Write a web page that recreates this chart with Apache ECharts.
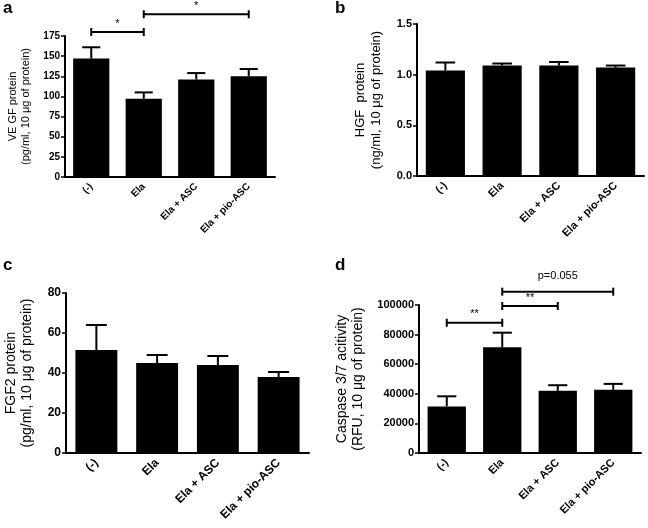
<!DOCTYPE html>
<html>
<head>
<meta charset="utf-8">
<script src="https://cdn.jsdelivr.net/npm/echarts@6/dist/echarts.min.js"></script>
<style>html,body{margin:0;padding:0;background:#fff}#c{width:648px;height:528px}</style>
</head>
<body>
<div id="c"></div>
<script>
// ---- data ----
const categories = ['(-)', 'Ela', 'Ela + ASC', 'Ela + pio-ASC'];

const vegfMean = [147, 97, 121, 125];
const vegfSem  = [14, 8, 8, 9];
const vegfTicks = [0, 25, 50, 75, 100, 125, 150, 175];
const vegfBrackets = [[0, 1, 180, '*'], [1, 3, 202, '*']];

const hgfMean = [1.04, 1.09, 1.09, 1.07];
const hgfSem  = [0.08, 0.02, 0.035, 0.02];
const hgfTicks = ['0.0', '0.5', '1.0', '1.5'];

const fgf2Mean = [51.5, 45, 44, 38];
const fgf2Sem  = [12.5, 4, 4.5, 2.5];
const fgf2Ticks = [0, 20, 40, 60, 80];

const caspMean = [31500, 71500, 42000, 42700];
const caspSem  = [6800, 9800, 3800, 4000];
const caspTicks = [0, 20000, 40000, 60000, 80000, 100000];
const caspBrackets = [[0, 1, 88000, '**'], [1, 2, 99300, '**'], [1, 3, 109000, 'p=0.055']];

// ---- chart ----
const FONT = '"Liberation Sans", Arial, sans-serif';
const chart = echarts.init(document.getElementById('c'));

const panels = [
  {grid:{left:65, top:36, width:210, height:141}, mean:vegfMean, sem:vegfSem, max:175, interval:25,
   name:'VE GF protein\n(pg/ml, 10 μg of protein)', nameSize:11, nameGap:32, tickSize:10, catSize:10, brackets:vegfBrackets, fmt:v=>String(v)},
  {grid:{left:417, top:24, width:227, height:152}, mean:hgfMean, sem:hgfSem, max:1.5, interval:0.5,
   name:'HGF  protein\n(ng/ml, 10 μg of protein)', nameSize:13, nameGap:33, tickSize:11, catSize:11, brackets:[], fmt:v=>hgfTicks[Math.round(v/0.5)]},
  {grid:{left:66, top:293, width:243, height:160}, mean:fgf2Mean, sem:fgf2Sem, max:80, interval:20,
   name:'FGF2 protein\n(pg/ml, 10 μg of protein)', nameSize:14, nameGap:30, tickSize:12, catSize:12, brackets:[], fmt:v=>String(v)},
  {grid:{left:419, top:305, width:222, height:148}, mean:caspMean, sem:caspSem, max:100000, interval:20000,
   name:'Caspase 3/7 acitivity\n(RFU, 10 μg of protein)', nameSize:14, nameGap:52, tickSize:11, catSize:11, brackets:caspBrackets, fmt:v=>String(v)}
];

const grids = [], xAxes = [], yAxes = [], series = [];
const axisLineStyle = {color:'#000', width:2};
panels.forEach((p, i) => {
  grids.push(Object.assign({containLabel:false}, p.grid));
  xAxes.push({
    type:'category', gridIndex:i, data:categories,
    axisLine:{lineStyle:axisLineStyle},
    axisTick:{alignWithLabel:true, length:4, lineStyle:{color:'#000', width:1.5}},
    axisLabel:{rotate:45, color:'#000', fontFamily:FONT, fontWeight:'bold', fontSize:p.catSize, margin:8, interval:0}
  });
  yAxes.push({
    type:'value', gridIndex:i, min:0, max:p.max, interval:p.interval,
    name:p.name, nameLocation:'middle', nameGap:p.nameGap,
    nameTextStyle:{color:'#000', fontFamily:FONT, fontSize:p.nameSize, lineHeight:p.nameSize*1.2},
    axisLine:{show:true, lineStyle:axisLineStyle},
    axisTick:{show:true, length:4, lineStyle:{color:'#000', width:1.5}},
    axisLabel:{color:'#000', fontFamily:FONT, fontWeight:'bold', fontSize:p.tickSize, formatter:p.fmt, margin:5},
    splitLine:{show:false}
  });
  series.push({
    type:'bar', xAxisIndex:i, yAxisIndex:i, data:p.mean, barWidth:'69%',
    itemStyle:{color:'#000'}, silent:true, animation:false
  });
  series.push({
    type:'custom', xAxisIndex:i, yAxisIndex:i, clip:false, animation:false, silent:true,
    data:p.mean.map((m, k) => [k, m, p.sem[k]]),
    renderItem:(params, api) => {
      const k = api.value(0), m = api.value(1), s = api.value(2);
      const a = api.coord([k, m]);
      const b = api.coord([k, m + s]);
      const half = api.size([1, 0])[0] * 0.69 / 4;
      const st = {stroke:'#000', lineWidth:2};
      return {type:'group', children:[
        {type:'line', shape:{x1:a[0], y1:a[1], x2:b[0], y2:b[1]}, style:st},
        {type:'line', shape:{x1:b[0]-half, y1:b[1], x2:b[0]+half, y2:b[1]}, style:st}
      ]};
    }
  });
  if (p.brackets.length) {
    series.push({
      type:'custom', xAxisIndex:i, yAxisIndex:i, clip:false, animation:false, silent:true,
      data:p.brackets.map(b => [b[0], b[1], b[2]]),
      renderItem:(params, api) => {
        const lab = p.brackets[params.dataIndex][3];
        const p1 = api.coord([api.value(0), api.value(2)]);
        const p2 = api.coord([api.value(1), api.value(2)]);
        const st = {stroke:'#000', lineWidth:2};
        return {type:'group', children:[
          {type:'line', shape:{x1:p1[0], y1:p1[1], x2:p2[0], y2:p2[1]}, style:st},
          {type:'line', shape:{x1:p1[0], y1:p1[1]-4, x2:p1[0], y2:p1[1]+4}, style:st},
          {type:'line', shape:{x1:p2[0], y1:p2[1]-4, x2:p2[0], y2:p2[1]+4}, style:st},
          {type:'text', style:{text:lab, x:(p1[0]+p2[0])/2, y:p1[1]-(lab.length > 2 ? 10 : 3),
            textAlign:'center', textVerticalAlign:'bottom', fill:'#000', font:'11px ' + FONT}}
        ]};
      }
    });
  }
});

const letter = (t, x, y) => ({type:'text', left:x, top:y, style:{text:t, fill:'#000', font:'bold 17px ' + FONT}});

chart.setOption({
  animation:false,
  backgroundColor:'#fff',
  grid:grids, xAxis:xAxes, yAxis:yAxes, series:series,
  graphic:[letter('a', 3, 0), letter('b', 335, 0), letter('c', 3, 257), letter('d', 335, 257)]
});
</script>
</body>
</html>
